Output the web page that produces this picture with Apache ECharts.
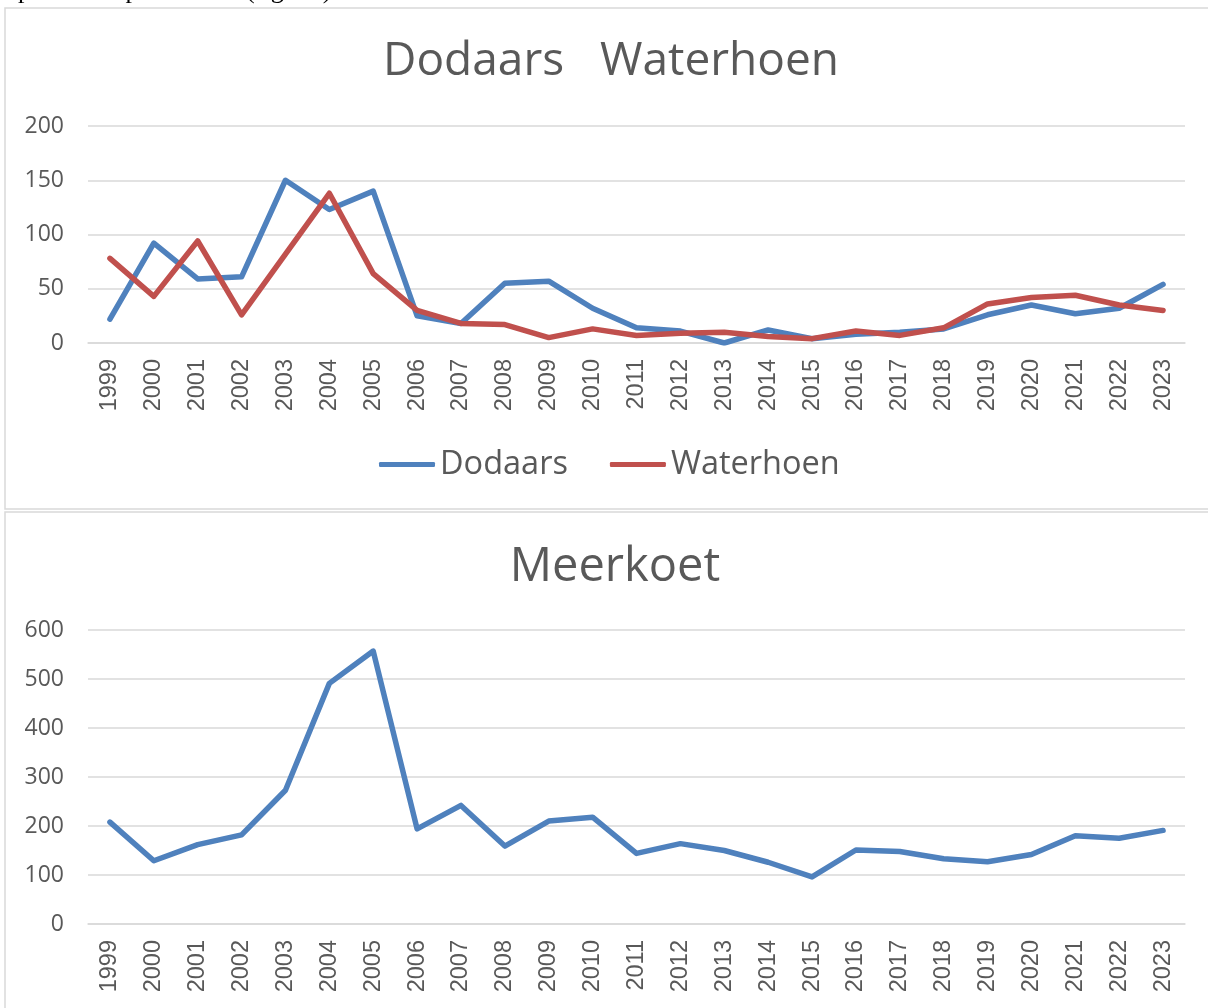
<!DOCTYPE html>
<html>
<head>
<meta charset="utf-8">
<script src="https://cdn.jsdelivr.net/npm/echarts@6/dist/echarts.min.js"></script>
<style>
  html, body { margin: 0; padding: 0; background: #fff; }
  #chart { width: 1208px; height: 1008px; }
</style>
</head>
<body>
<div id="chart"></div>
<script>
// data
const years = ['1999','2000','2001','2002','2003','2004','2005','2006','2007','2008','2009','2010','2011',
  '2012','2013','2014','2015','2016','2017','2018','2019','2020','2021','2022','2023']
const dodaars = [22, 92, 59, 61, 150, 123, 140, 25, 18, 55, 57, 32, 14, 11, 0, 12, 4, 8, 10, 13, 26, 35, 27, 32, 54]
const waterhoen = [78, 43, 94, 26, 82, 138, 64, 30, 18, 17, 5, 13, 7, 9, 10, 6, 4, 11, 7, 14, 36, 42, 44, 35, 30]
const meerkoet = [208, 129, 162, 182, 273, 491, 557, 194, 242, 159, 210, 218, 144, 164, 150, 126, 96, 151, 148, 133, 127, 142, 180, 175, 191]

const topTicks = { min: 0, max: 200, interval: 50 }
const bottomTicks = { min: 0, max: 600, interval: 100 }

const blue = '#4F81BD'
const red = '#C0504D'
const gridColor = '#d9d9d9'
const textColor = '#595959'
const sans = '"Open Sans", sans-serif'

const chart = echarts.init(document.getElementById('chart'))

function xAxisFor(gridIndex) {
  return {
    type: 'category',
    data: years,
    gridIndex: gridIndex,
    boundaryGap: true,
    axisTick: { show: false },
    axisLine: { lineStyle: { color: gridColor, width: 1.5 } },
    axisLabel: {
      rotate: 90,
      margin: 16,
      color: textColor,
      fontSize: 23.5,
      fontFamily: '"Liberation Sans", Arial, sans-serif'
    }
  }
}

function yAxisFor(gridIndex, ticks) {
  return {
    type: 'value',
    gridIndex: gridIndex,
    min: ticks.min,
    max: ticks.max,
    interval: ticks.interval,
    axisLine: { show: false },
    axisTick: { show: false },
    splitLine: { lineStyle: { color: gridColor, width: 1.5 } },
    axisLabel: { margin: 24, color: textColor, fontSize: 23, fontFamily: sans }
  }
}

const lineSeries = (name, data, color, idx) => ({
  name: name,
  type: 'line',
  data: data,
  xAxisIndex: idx,
  yAxisIndex: idx,
  symbol: 'none',
  animation: false,
  lineStyle: { width: 5.5, color: color, cap: 'round', join: 'round' },
  itemStyle: { color: color }
})

chart.setOption({
  animation: false,
  title: [
    {
      text: 'Dodaars   Waterhoen',
      left: 606, top: 34, textAlign: 'center',
      textStyle: { fontFamily: sans, fontSize: 46, fontWeight: 'normal', color: textColor }
    },
    {
      text: 'Meerkoet',
      left: 610, top: 539, textAlign: 'center',
      textStyle: { fontFamily: sans, fontSize: 47, fontWeight: 'normal', color: textColor }
    }
  ],
  legend: {
    data: ['Dodaars', 'Waterhoen'],
    left: 374,
    top: 443,
    icon: 'roundRect',
    itemWidth: 56,
    itemHeight: 5,
    itemGap: 42,
    textStyle: { fontFamily: sans, fontSize: 32.5, color: textColor }
  },
  grid: [
    { left: 88, right: 23, top: 126, height: 217 },
    { left: 88, right: 23, top: 630, height: 294 }
  ],
  xAxis: [xAxisFor(0), xAxisFor(1)],
  yAxis: [yAxisFor(0, topTicks), yAxisFor(1, bottomTicks)],
  series: [
    lineSeries('Dodaars', dodaars, blue, 0),
    lineSeries('Waterhoen', waterhoen, red, 0),
    lineSeries('Meerkoet', meerkoet, blue, 1)
  ],
  graphic: [
    {
      type: 'text', left: 5, top: -22,
      style: { text: 'opvallende parameters (fig. 14).', font: '26px "Liberation Serif", serif', fill: '#000' }
    },
    {
      type: 'rect', shape: { x: 5, y: 8, width: 1230, height: 501 },
      style: { fill: null, stroke: gridColor, lineWidth: 1.5 }
    },
    {
      type: 'rect', shape: { x: 5, y: 512, width: 1230, height: 520 },
      style: { fill: null, stroke: gridColor, lineWidth: 1.5 }
    }
  ]
})
</script>
</body>
</html>
